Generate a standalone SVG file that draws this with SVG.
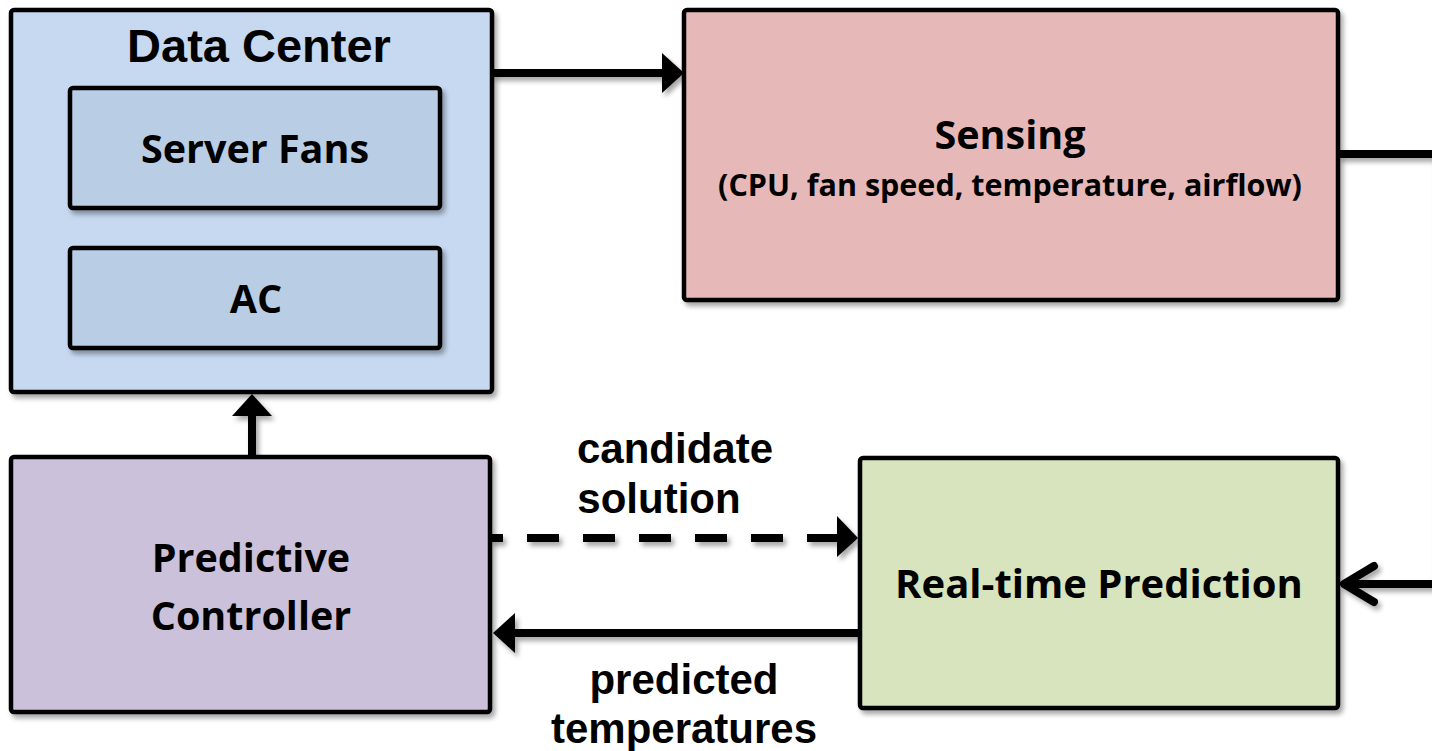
<svg xmlns="http://www.w3.org/2000/svg" width="1432" height="751" viewBox="0 0 1432 751">
<defs>
<filter id="sh" x="-10%" y="-10%" width="130%" height="130%">
<feDropShadow dx="3" dy="4" stdDeviation="2.5" flood-color="#000" flood-opacity="0.35"/>
</filter>
<marker id="tri" viewBox="0 0 22 40" refX="2" refY="20" markerWidth="22" markerHeight="40" markerUnits="userSpaceOnUse" orient="auto">
<path d="M0,0 L22,20 L0,40 Z" fill="#000"/>
</marker>
</defs>
<style>
.box{stroke:#000;stroke-width:4.5;filter:url(#sh)}
.cal{font-family:"Open Sans","Noto Sans",sans-serif;font-weight:700;fill:#000;text-anchor:middle}
.ar{font-family:"Liberation Sans",Arial,sans-serif;font-weight:700;fill:#000;text-anchor:middle}
.con{fill:none;stroke:#000;stroke-width:8}
</style>
<rect width="1432" height="751" fill="#fff"/>

<g id="connectors" filter="url(#sh)">
<path class="con" d="M492,73 H664" marker-end="url(#tri)"/>
<path class="con" d="M252,457 V414" marker-end="url(#tri)"/>
<path class="con" d="M490,538 H839" stroke-dasharray="32 24" stroke-dashoffset="19"/>
<path d="M837,516 L858,538 L837,557 Z" fill="#000"/>
<path class="con" d="M858,633 H513" marker-end="url(#tri)"/>
<path class="con" d="M1338,154 H1437 V584 H1346"/>
<path class="con" d="M1374,566 L1344,584 L1374,602" stroke-linecap="round" stroke-linejoin="round"/>
</g>

<g id="data-center">
<rect class="box" x="11" y="10" width="481" height="382" rx="3" fill="#c6d9f1"/>
<text class="ar" x="259" y="62" font-size="47">Data Center</text>
</g>
<g id="server-fans">
<rect class="box" x="70" y="88" width="370" height="120" rx="3" fill="#b9cde5"/>
<text class="cal" x="255" y="163" font-size="39.5">Server Fans</text>
</g>
<g id="ac">
<rect class="box" x="70" y="248" width="370" height="100" rx="3" fill="#b9cde5"/>
<text class="cal" x="256" y="313" font-size="39.5">AC</text>
</g>
<g id="sensing">
<rect class="box" x="684" y="10" width="654" height="290" rx="3" fill="#e6b9b8"/>
<text class="cal" x="1010" y="149" font-size="39.5">Sensing</text>
<text class="cal" x="1010" y="196" font-size="30.5">(CPU, fan speed, temperature, airflow)</text>
</g>
<g id="real-time-prediction">
<rect class="box" x="860" y="458" width="478" height="250" rx="3" fill="#d7e4bd"/>
<text class="cal" x="1099" y="598" font-size="40">Real-time Prediction</text>
</g>
<g id="predictive-controller">
<rect class="box" x="11" y="457" width="479" height="255" rx="3" fill="#ccc1da"/>
<text class="cal" x="251" y="572" font-size="39.5">Predictive</text>
<text class="cal" x="251" y="630" font-size="39.5">Controller</text>
</g>

<g id="labels">
<text class="ar" x="675" y="463" font-size="42">candidate</text>
<text class="ar" x="659" y="513" font-size="42">solution</text>
<text class="ar" x="684" y="694" font-size="42">predicted</text>
<text class="ar" x="684" y="743" font-size="42">temperatures</text>
</g>
</svg>
